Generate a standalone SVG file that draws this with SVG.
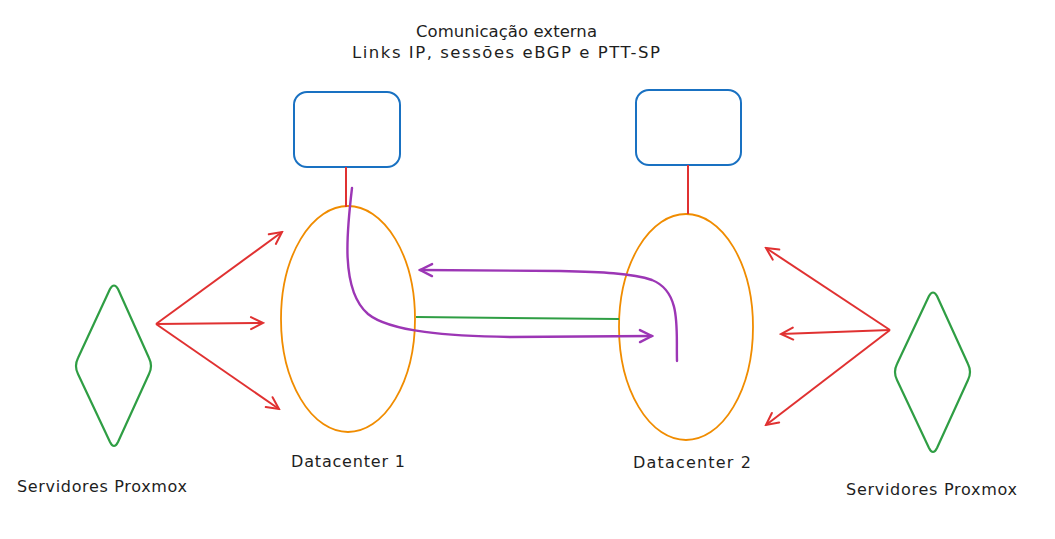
<svg xmlns="http://www.w3.org/2000/svg" width="1055" height="539" viewBox="0 0 1055 539">
<style>
.t{font-family:"DejaVu Sans","Liberation Sans",sans-serif;font-size:16px;fill:#1e1e1e;text-anchor:middle}
.tt{font-size:16.5px}
.box{fill:none;stroke:#1971c2;stroke-width:2}
.dc{fill:none;stroke:#f08c00;stroke-width:1.8}
.srv{fill:none;stroke:#2f9e44;stroke-width:2.2;stroke-linejoin:round}
.red{fill:none;stroke:#e03131;stroke-width:2}
.pur{fill:none;stroke:#9c36b5;stroke-width:2.4;stroke-linecap:round}
.grn{fill:none;stroke:#2f9e44;stroke-width:2}
</style>
<defs>
<marker id="ar" viewBox="0 0 20 20" refX="18" refY="10" markerWidth="20" markerHeight="20" markerUnits="userSpaceOnUse" orient="auto">
<path d="M6 4 L18 10 L6 16" fill="none" stroke="#e03131" stroke-width="2" stroke-linecap="round"/>
</marker>
<marker id="ap" viewBox="0 0 20 20" refX="18" refY="10" markerWidth="20" markerHeight="20" markerUnits="userSpaceOnUse" orient="auto">
<path d="M6 4 L18 10 L6 16" fill="none" stroke="#9c36b5" stroke-width="2.4" stroke-linecap="round"/>
</marker>
</defs>
<rect width="1055" height="539" fill="#ffffff"/>
<g id="title">
<text class="t tt" x="506.5" y="37" textLength="181" lengthAdjust="spacing">Comunicação externa</text>
<text class="t tt" x="506" y="58" textLength="308" lengthAdjust="spacing">Links IP, sessões eBGP e PTT-SP</text>
</g>
<g id="ext1"><rect class="box" x="294" y="92" width="106" height="75" rx="13"/></g>
<g id="ext2"><rect class="box" x="636" y="90" width="105" height="75" rx="13"/></g>
<g id="dc1">
<ellipse class="dc" cx="348" cy="319" rx="67" ry="113"/>
<text class="t" x="348" y="467" textLength="114" lengthAdjust="spacing">Datacenter 1</text>
</g>
<g id="dc2">
<ellipse class="dc" cx="686" cy="327" rx="67" ry="113"/>
<text class="t" x="692" y="468" textLength="118" lengthAdjust="spacing">Datacenter 2</text>
</g>
<g id="srv1">
<path class="srv" d="M110 289 Q114 282 118 289 L149 358 Q153 366 149 374 L118 442 Q114 450 110 442 L78 374 Q74 366 78 358 Z"/>
<text class="t" x="102" y="492" textLength="170" lengthAdjust="spacing">Servidores Proxmox</text>
</g>
<g id="srv2">
<path class="srv" d="M929 296 Q933 289 937 296 L968 364 Q972 372 968 380 L937 448 Q933 456 929 448 L897 380 Q893 372 897 364 Z"/>
<text class="t" x="931.5" y="495" textLength="171" lengthAdjust="spacing">Servidores Proxmox</text>
</g>
<g id="connectors">
<line class="red" x1="346" y1="167" x2="346" y2="207"/>
<line class="red" x1="688" y1="165" x2="688" y2="214"/>
<line class="red" x1="156" y1="324" x2="282" y2="232" marker-end="url(#ar)"/>
<line class="red" x1="156" y1="324" x2="263" y2="323" marker-end="url(#ar)"/>
<line class="red" x1="156" y1="324" x2="279" y2="409" marker-end="url(#ar)"/>
<line class="red" x1="890" y1="330" x2="766" y2="248" marker-end="url(#ar)"/>
<line class="red" x1="890" y1="330" x2="781" y2="334" marker-end="url(#ar)"/>
<line class="red" x1="890" y1="330" x2="766" y2="425" marker-end="url(#ar)"/>
<line class="grn" x1="416" y1="317" x2="619" y2="319"/>
<path class="pur" d="M352 188 C 347 230, 340 290, 368 314 C 390 332, 450 336, 510 337 L 652 336" marker-end="url(#ap)"/>
<path class="pur" d="M677 361 C 676 330, 682 292, 652 280 C 632 273, 600 272, 560 271 L 420 270" marker-end="url(#ap)"/>
</g>
</svg>
